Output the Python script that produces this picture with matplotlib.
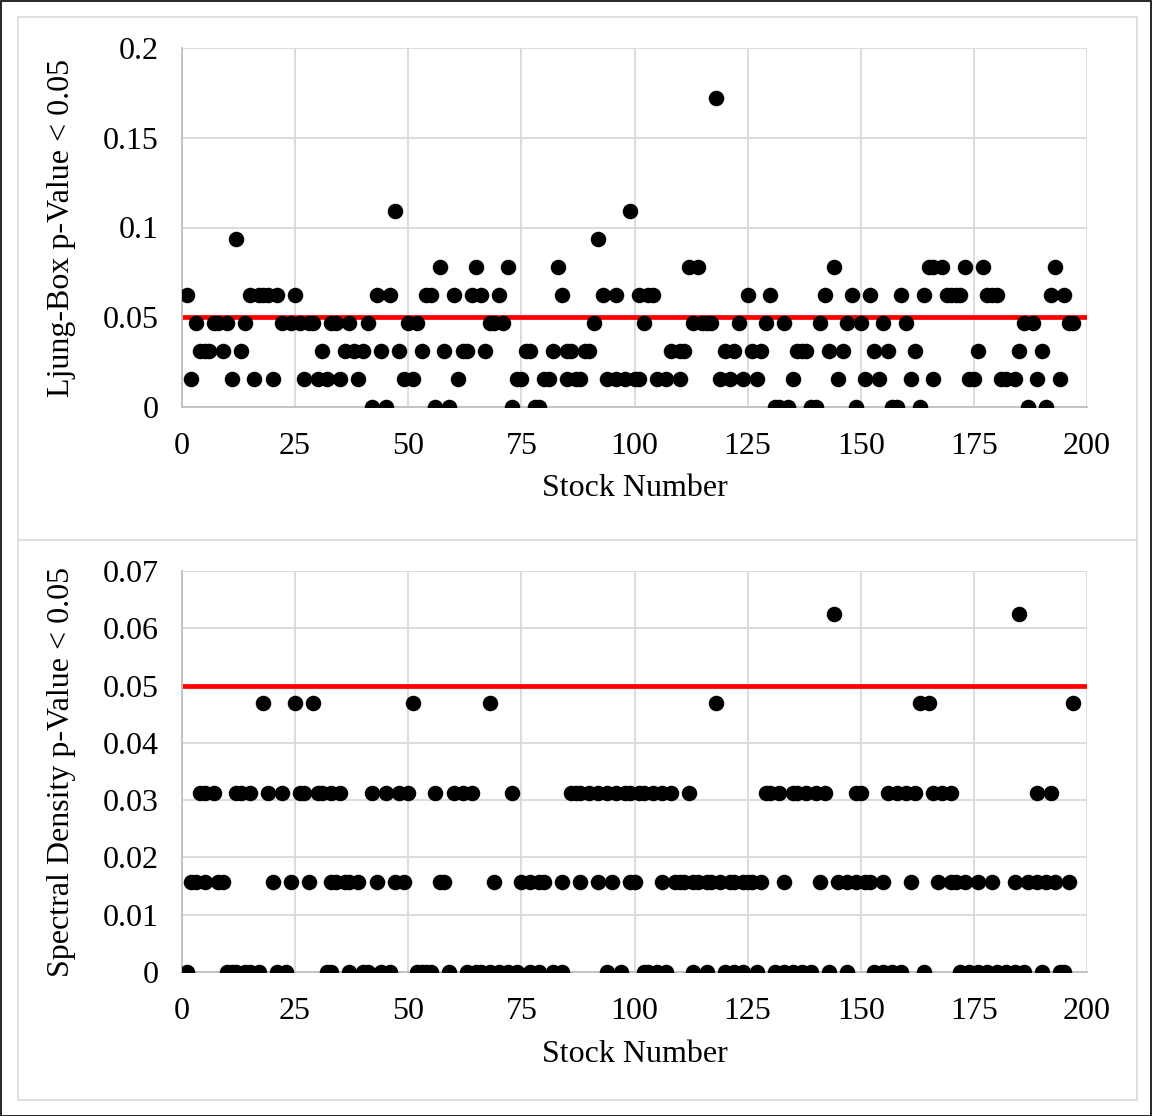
import matplotlib
matplotlib.use("Agg")
import matplotlib.pyplot as plt
from matplotlib.patches import Rectangle
from matplotlib.lines import Line2D

# ---------------- data (stock numbers grouped by p-value level) ----------------
top_levels = [0.171875, 0.109375, 0.09375, 0.078125, 0.0625, 0.046875, 0.03125, 0.015625, 0.0]
top_0172 = [118]
top_0109 = [47, 99]
top_0094 = [12, 92]
top_0078 = [57, 65, 72, 83, 112, 114, 144, 165, 166, 168, 173, 177, 193]
top_0063 = [1, 15, 17, 18, 19, 21, 25, 43, 46, 54, 55, 60, 64, 66, 70, 84, 93, 96, 101, 103, 104,
            125, 130, 142, 148, 152, 159, 164, 169, 170, 171, 172, 178, 179, 180, 192, 195]
top_0047 = [3, 7, 8, 10, 14, 22, 24, 26, 28, 29, 33, 34, 37, 41, 50, 52, 68, 69, 71, 91, 102, 113,
            115, 116, 117, 123, 129, 133, 141, 147, 150, 155, 160, 186, 188, 196, 197]
top_0031 = [4, 5, 6, 9, 13, 31, 36, 38, 40, 44, 48, 53, 58, 62, 63, 67, 76, 77, 82, 85, 86, 89, 90,
            108, 110, 111, 120, 122, 126, 128, 136, 137, 138, 143, 146, 153, 156, 162, 176, 185, 190]
top_0016 = [2, 11, 16, 20, 27, 30, 32, 35, 39, 49, 51, 61, 74, 75, 80, 81, 85, 87, 88, 94, 96, 98,
            100, 101, 105, 107, 110, 119, 121, 124, 127, 135, 145, 151, 154, 161, 166, 174, 175,
            181, 182, 184, 189, 194]
top_0000 = [42, 45, 56, 59, 73, 78, 79, 131, 132, 134, 139, 140, 149, 157, 158, 163, 187, 191]
top_groups = [top_0172, top_0109, top_0094, top_0078, top_0063, top_0047, top_0031, top_0016, top_0000]

bot_levels = [0.0625, 0.046875, 0.03125, 0.015625, 0.0]
bot_0063 = [144, 185]
bot_0047 = [18, 25, 29, 51, 68, 118, 163, 165, 197]
bot_0031 = [4, 5, 7, 12, 13, 15, 19, 22, 26, 27, 30, 31, 33, 35, 42, 45, 48, 50, 56, 60, 62, 64, 73,
            86, 87, 88, 90, 92, 94, 96, 98, 99, 101, 102, 104, 106, 108, 112, 129, 130, 132, 135,
            136, 138, 140, 142, 149, 150, 156, 158, 160, 162, 166, 168, 170, 189, 192]
bot_0016 = [2, 3, 5, 8, 9, 20, 24, 28, 33, 34, 36, 37, 39, 43, 47, 49, 57, 58, 69, 75, 77, 79, 80,
            84, 88, 92, 95, 99, 100, 106, 109, 110, 111, 113, 114, 116, 117, 119, 121, 122, 124,
            125, 126, 128, 133, 141, 145, 147, 149, 151, 152, 155, 161, 167, 170, 171, 173, 176,
            179, 184, 187, 189, 191, 193, 196]
bot_0000 = [1, 10, 11, 12, 14, 15, 17, 21, 23, 32, 33, 37, 40, 41, 44, 46, 52, 53, 54, 55, 59, 63,
            65, 66, 68, 70, 72, 74, 77, 79, 82, 84, 94, 97, 102, 103, 105, 107, 113, 116, 120, 122,
            124, 127, 131, 133, 135, 137, 139, 143, 147, 153, 155, 157, 159, 164, 172, 174, 176,
            178, 180, 182, 184, 186, 190, 194, 195]
bot_groups = [bot_0063, bot_0047, bot_0031, bot_0016, bot_0000]

threshold = 0.05
x_ticks = [0, 25, 50, 75, 100, 125, 150, 175, 200]
top_yticks = [0, 0.05, 0.1, 0.15, 0.2]
top_yticklabels = ["0", "0.05", "0.1", "0.15", "0.2"]
bot_yticks = [0, 0.01, 0.02, 0.03, 0.04, 0.05, 0.06, 0.07]
bot_yticklabels = ["0", "0.01", "0.02", "0.03", "0.04", "0.05", "0.06", "0.07"]
xlabel = "Stock Number"
top_ylabel = "Ljung-Box p-Value < 0.05"
bot_ylabel = "Spectral Density p-Value < 0.05"


def flatten(groups, levels):
    xs, ys = [], []
    for g, lv in zip(groups, levels):
        xs.extend(g)
        ys.extend([lv] * len(g))
    return xs, ys


plt.rcParams['font.family'] = ['Liberation Serif', 'DejaVu Serif']
FS = 23
W, H = 1152, 1116
fig = plt.figure(figsize=(W / 100, H / 100), dpi=100)

grid_c = '#D9D9D9'
spine_c = '#BFBFBF'
LEFT_PX, RIGHT_PX = 182, 1087


def make_axes(top_px, bottom_px, groups, levels, ymax, yticks, ylabels, ylabel, xlabel_px):
    ax = fig.add_axes([LEFT_PX / W, 1 - bottom_px / H, (RIGHT_PX - LEFT_PX) / W,
                       (bottom_px - top_px) / H])
    xs, ys = flatten(groups, levels)
    ax.axhline(threshold, color='#FF0000', lw=3.4, zorder=2)
    ax.scatter(xs, ys, s=125, color='black', zorder=3, linewidths=0)
    ax.set_xlim(0, 200)
    ax.set_ylim(0, ymax)
    ax.set_xticks(x_ticks)
    ax.set_xticklabels([str(t) for t in x_ticks])
    ax.set_yticks(yticks)
    ax.set_yticklabels(ylabels)
    ax.grid(True, color=grid_c, lw=1.3, zorder=0)
    ax.set_axisbelow(True)
    for s in ['top', 'right']:
        ax.spines[s].set_visible(False)
    for s in ['left', 'bottom']:
        ax.spines[s].set_color(spine_c)
        ax.spines[s].set_linewidth(1.3)
    ax.tick_params(axis='both', length=0, labelsize=FS)
    ax.tick_params(axis='x', pad=18)
    ax.tick_params(axis='y', pad=17)
    ax.set_xlabel(xlabel, fontsize=FS)
    ax.set_ylabel(ylabel, fontsize=FS)
    h = bottom_px - top_px
    ax.xaxis.set_label_coords(0.5, -(xlabel_px - bottom_px) / h)
    ax.xaxis.label.set_verticalalignment('center')
    ax.yaxis.set_label_coords((62 - LEFT_PX) / (RIGHT_PX - LEFT_PX), 0.5)
    ax.yaxis.label.set_verticalalignment('center')
    return ax


ax1 = make_axes(48, 407, top_groups, top_levels, 0.2, top_yticks, top_yticklabels, top_ylabel, 489)
ax2 = make_axes(571, 972, bot_groups, bot_levels, 0.07, bot_yticks, bot_yticklabels, bot_ylabel, 1055)

# chart frames
fig.add_artist(Rectangle((18 / W, 1 - 1100 / H), (1137 - 18) / W, (1100 - 17) / H,
                         transform=fig.transFigure, fill=False, edgecolor='#D9D9D9', lw=1.2))
fig.add_artist(Line2D([18 / W, 1137 / W], [1 - 540 / H, 1 - 540 / H],
                      transform=fig.transFigure, color='#D9D9D9', lw=1.2))
fig.add_artist(Rectangle((0.5 / W, 0.5 / H), (W - 1.5) / W, (H - 1.5) / H,
                         transform=fig.transFigure, fill=False, edgecolor='black', lw=1.2))

fig.savefig('out.png', dpi=100)
